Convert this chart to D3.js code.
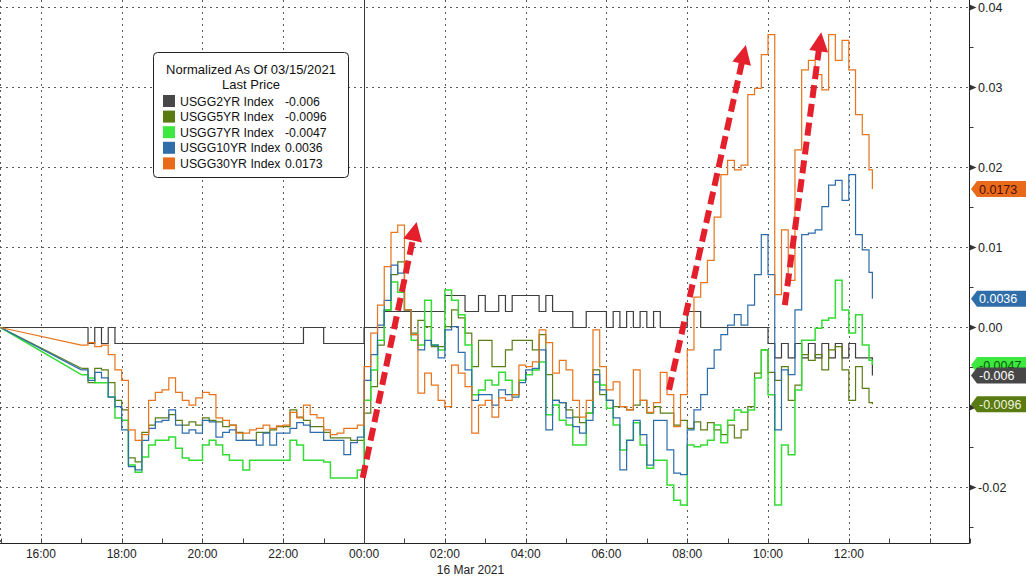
<!DOCTYPE html>
<html><head><meta charset="utf-8">
<script src="https://cdn.jsdelivr.net/npm/d3@7"></script>
<style>
html,body{margin:0;padding:0;background:#fff;}
svg{display:block;font-family:"Liberation Sans",Arial,sans-serif;}
</style></head><body>
<svg id="chart" width="1026" height="577"></svg>
<script>
// ---------------- DATA ----------------
const seriesNames = ["USGG2YR Index","USGG5YR Index","USGG7YR Index","USGG10YR Index","USGG30YR Index"];
const seriesColors = ["#3d3d3d","#5b7d16","#35dc35","#2d6cab","#e8741c"];
const lastPrice = [-0.006, -0.0096, -0.0047, 0.0036, 0.0173];
const lastPriceLabels = ["-0.006","-0.0096","-0.0047","0.0036","0.0173"];
const legendTitle = ["Normalized As Of 03/15/2021","Last Price"];
const startTime = "15:00";          // normalisation point (value 0 for all)
const lastTime = "12:35";           // last price time
const rowHours = ["17:00","18:00","19:00","20:00","21:00","22:00","23:00","00:00","01:00","02:00",
                  "03:00","04:00","05:00","06:00","07:00","08:00","09:00","10:00","11:00","12:00"];
const stepMinutes = 10;             // each row: values at :00 :10 :20 :30 :40 :50

const usgg2 = [
 [0,-0.002,0,-0.002,0,-0.002],
 [-0.002,-0.002,-0.002,-0.002,-0.002,-0.002],
 [-0.002,-0.002,-0.002,-0.002,-0.002,-0.002],
 [-0.002,-0.002,-0.002,-0.002,-0.002,-0.002],
 [-0.002,-0.002,-0.002,-0.002,-0.002,-0.002],
 [-0.002,-0.002,-0.002,0,0,0],
 [-0.002,-0.002,-0.002,-0.002,-0.002,-0.002],
 [0,0,0,0.002,0.002,0.002],
 [0.002,0.002,0.002,0.002,0.002,0.002],
 [0.004,0.004,0.004,0.002,0.002,0.004],
 [0.002,0.002,0.004,0.002,0.004,0.004],
 [0.004,0.004,0.002,0.004,0.002,0.002],
 [0.002,0,0,0.002,0.002,0.002],
 [0,0.002,0,0.002,0,0.002],
 [0,0.002,0,0,0,0],
 [0.002,0.002,0,0,0,0],
 [0,0,0,0,0,0],
 [-0.002,-0.0038,-0.002,-0.0038,-0.002,-0.0038],
 [-0.002,-0.0038,-0.002,-0.0038,-0.002,-0.0038],
 [-0.002,-0.0038,-0.0038,-0.0038]
];
const usgg5 = [
 [-0.0051,-0.0069,-0.0051,-0.0053,-0.0069,-0.0091],
 [-0.0103,-0.0163,-0.0168,-0.0131,-0.0122,-0.0113],
 [-0.0113,-0.0109,-0.0116,-0.0122,-0.0118,-0.0122],
 [-0.0113,-0.0116,-0.0118,-0.0124,-0.0122,-0.0131],
 [-0.0141,-0.0141,-0.0131,-0.0131,-0.0128,-0.0124],
 [-0.0124,-0.0103,-0.0112,-0.0116,-0.0124,-0.0124],
 [-0.0131,-0.0138,-0.0138,-0.0138,-0.0141,-0.0141],
 [-0.0107,-0.0074,-0.0022,0.0022,0.0066,0.0082],
 [0.0022,-0.0007,0.0009,0.0001,-0.0024,-0.0024],
 [0.0001,0.0022,0.0012,-0.0007,-0.0049,-0.0016],
 [-0.0016,-0.0049,-0.0049,-0.0028,-0.0016,-0.0016],
 [-0.0016,-0.0028,-0.0009,-0.0059,-0.0091,-0.0094],
 [-0.0103,-0.0112,-0.0119,-0.0107,-0.0053,-0.0084],
 [-0.0091,-0.0099,-0.0099,-0.0103,-0.0097,-0.0091],
 [-0.0107,-0.0099,-0.0107,-0.0107,-0.0122,-0.0116],
 [-0.0126,-0.0118,-0.0128,-0.0119,-0.0128,-0.0134],
 [-0.0122,-0.0138,-0.0128,-0.0099,-0.0057,-0.0028],
 [-0.0056,-0.0066,-0.0049,-0.0091,-0.0072,-0.0034],
 [-0.0041,-0.0034,-0.0053,-0.0028,-0.0024,-0.0053],
 [-0.0091,-0.0049,-0.0076,-0.0094]
];
const usgg7 = [
 [-0.0059,-0.0063,-0.0069,-0.0069,-0.0087,-0.0113],
 [-0.0116,-0.0172,-0.0181,-0.0162,-0.0147,-0.0141],
 [-0.0141,-0.0137,-0.0151,-0.0163,-0.0166,-0.0166],
 [-0.0147,-0.0141,-0.0147,-0.0159,-0.0166,-0.0166],
 [-0.0178,-0.0166,-0.0166,-0.0166,-0.0166,-0.0166],
 [-0.0166,-0.0141,-0.0147,-0.0166,-0.0166,-0.0166],
 [-0.0168,-0.0188,-0.0188,-0.0188,-0.0188,-0.0178],
 [-0.0091,-0.0053,-0.0016,0.0022,0.0057,0.0044],
 [0.0022,-0.0016,-0.0022,0.0034,-0.0022,-0.0028],
 [0.0047,0.0034,0.0016,-0.0022,-0.0084,-0.0078],
 [-0.0066,-0.0072,-0.0056,-0.0066,-0.0084,-0.0066],
 [-0.0059,-0.0053,-0.0043,-0.0109,-0.0097,-0.0116],
 [-0.0122,-0.0147,-0.0147,-0.0107,-0.0068,-0.0072],
 [-0.0101,-0.0122,-0.0153,-0.0141,-0.0119,-0.0147],
 [-0.0176,-0.0166,-0.0166,-0.0197,-0.0216,-0.0222],
 [-0.0147,-0.0149,-0.0147,-0.0141,-0.0122,-0.0144],
 [-0.0116,-0.0103,-0.0106,-0.0103,-0.0063,-0.0028],
 [-0.0084,-0.0222,-0.0147,-0.0159,-0.0078,-0.0016],
 [-0.0016,-0.0001,0.0009,0.0012,0.0059,0.0022],
 [-0.0007,0.0016,-0.0022,-0.0041]
];
const usgg10 = [
 [-0.0053,-0.0066,-0.0056,-0.0063,-0.0087,-0.0099],
 [-0.0128,-0.0174,-0.0178,-0.0141,-0.0126,-0.0118],
 [-0.0116,-0.0103,-0.0122,-0.0132,-0.0128,-0.0132],
 [-0.0116,-0.0118,-0.0137,-0.0131,-0.0128,-0.0141],
 [-0.0141,-0.0141,-0.0147,-0.0132,-0.0147,-0.0132],
 [-0.0132,-0.0126,-0.0119,-0.0122,-0.0131,-0.0131],
 [-0.0141,-0.0141,-0.0141,-0.0159,-0.0144,-0.0137],
 [-0.0066,-0.0034,0.0003,0.0034,0.0078,0.0068],
 [0.0022,-0.0009,-0.0028,-0.0016,-0.0022,-0.0038],
 [-0.0003,0.0001,-0.0031,-0.0053,-0.0091,-0.0084],
 [-0.0084,-0.0097,-0.0078,-0.0084,-0.0087,-0.0069],
 [-0.0053,-0.0051,-0.0028,-0.0128,-0.0091,-0.0094],
 [-0.0113,-0.0124,-0.0132,-0.0116,-0.0059,-0.0078],
 [-0.0091,-0.0113,-0.0178,-0.0141,-0.0116,-0.0134],
 [-0.0172,-0.0116,-0.0116,-0.0153,-0.0182,-0.0184],
 [-0.0128,-0.0103,-0.0084,-0.0051,-0.0028,-0.0009],
 [0.0003,0.0016,0.0003,0.0028,0.0066,0.0116],
 [0.0066,-0.0128,-0.0053,-0.0059,0.0022,0.0116],
 [0.0118,0.0122,0.0151,0.0178,0.0184,0.0159],
 [0.0191,0.0116,0.0097,0.0069]
];
const usgg30 = [
 [-0.0022,-0.0019,-0.0024,-0.0022,-0.0034,-0.0053],
 [-0.0066,-0.0128,-0.0141,-0.0134,-0.0091,-0.0081],
 [-0.0078,-0.0063,-0.0081,-0.0091,-0.0097,-0.0088],
 [-0.0081,-0.0084,-0.0113,-0.0116,-0.0122,-0.0132],
 [-0.0132,-0.0128,-0.0126,-0.0122,-0.0126,-0.0123],
 [-0.0122,-0.0106,-0.0113,-0.0097,-0.0109,-0.0113],
 [-0.0128,-0.0134,-0.0132,-0.0126,-0.0126,-0.0122],
 [-0.0049,-0.0007,0.0028,0.0076,0.0119,0.0128],
 [0.0022,-0.0009,-0.0082,-0.0057,-0.0072,-0.0091],
 [-0.0099,-0.0047,-0.0057,-0.0074,-0.0132,-0.0097],
 [-0.0091,-0.0112,-0.0088,-0.0091,-0.0084,-0.0047],
 [-0.0049,-0.0043,-0.0003,-0.0019,-0.0057,-0.0041],
 [-0.0053,-0.0091,-0.0112,-0.0091,-0.0003,-0.0049],
 [-0.0078,-0.0068,-0.0099,-0.0103,-0.0053,-0.0091],
 [-0.0106,-0.0094,-0.0056,-0.0084,-0.0124,-0.0084],
 [-0.0028,0.0038,0.0056,0.0084,0.0138,0.0191],
 [0.0209,0.0197,0.0203,0.0291,0.0299,0.0341],
 [0.0366,0.0041,0.0122,0.0059,0.0222,0.0322],
 [0.0334,0.0316,0.0297,0.0366,0.0334,0.0359],
 [0.0322,0.0266,0.0241,0.0197]
];
const seriesRows = [usgg2, usgg5, usgg7, usgg10, usgg30];

const yTicks = [-0.02,-0.01,0.00,0.01,0.02,0.03,0.04];
const yTickLabels = ["-0.02","","0.00","0.01","0.02","0.03","0.04"];  // -0.01 hidden behind badge
const yMinorTicks = [-0.025,-0.015,-0.005,0.005,0.015,0.025,0.035];
const xTickLabels = ["16:00","18:00","20:00","22:00","00:00","02:00","04:00","06:00","08:00","10:00","12:00"];
const xGridTimes = ["16:00","18:00","20:00","22:00","02:00","04:00","06:00","08:00","10:00","12:00","14:00"];
const daySeparator = "00:00";
const dateLabel = "16 Mar 2021";
// annotation arrows: [fromTime, fromValue, toTime, toValue]
const arrows = [
 ["23:58",-0.0188,"01:18",0.0132],
 ["07:33",-0.0078,"09:27",0.0353],
 ["10:25", 0.0028,"11:19",0.0369]
];

// ---------------- CHART ----------------
const svg = d3.select("#chart");
const axisX = 969.5, axisY = 543.5;
const x = d3.scaleUtc().domain([Date.UTC(2021,2,15,15,0), Date.UTC(2021,2,16,15,0)]).range([0.5, 970]);
const y = d3.scaleLinear().domain([-0.02,0.04]).range([487.5,7.5]);

function toDate(hhmm, addMin){
  const [h,m] = hhmm.split(":").map(Number);
  const day = h >= 15 ? 15 : 16;
  return new Date(Date.UTC(2021,2,day,h,m+(addMin||0)));
}
const px = t => Math.round(x(t)) + 0.5;

// grid
const grid = svg.append("g");
grid.selectAll("line.h").data(yTicks).join("line")
  .attr("x1",0).attr("x2",axisX).attr("y1",d=>y(d)).attr("y2",d=>y(d))
  .attr("stroke","#5a5a5a").attr("stroke-width",1).attr("stroke-dasharray","2,4");
grid.selectAll("line.v").data(xGridTimes).join("line")
  .attr("x1",d=>px(toDate(d))).attr("x2",d=>px(toDate(d))).attr("y1",0).attr("y2",axisY)
  .attr("stroke","#5a5a5a").attr("stroke-width",1).attr("stroke-dasharray","2,4");
grid.append("line").attr("x1",0.5).attr("x2",0.5).attr("y1",0).attr("y2",axisY)
  .attr("stroke","#5a5a5a").attr("stroke-dasharray","2,4");
grid.append("line").attr("x1",px(toDate(daySeparator))).attr("x2",px(toDate(daySeparator)))
  .attr("y1",0).attr("y2",axisY).attr("stroke","#3a3a3a").attr("stroke-width",1);

// series (Bloomberg-style stepped lines; straight segment over the data gap)
const stepLine = d3.line().x(d=>x(d[0])).y(d=>y(d[1])).curve(d3.curveStepAfter);
const linLine = d3.line().x(d=>x(d[0])).y(d=>y(d[1]));
const lines = svg.append("g").attr("fill","none");
seriesRows.forEach((rows,si)=>{
  const pts = [];
  rows.forEach((row,ri)=>row.forEach((v,j)=>pts.push([toDate(rowHours[ri], j*stepMinutes), v])));
  pts.push([toDate(lastTime), lastPrice[si]]);
  const w = si === 2 ? 1.5 : 1.2;
  lines.append("path").attr("d", linLine([[toDate(startTime),0], pts[0]]))
    .attr("stroke",seriesColors[si]).attr("stroke-width",w);
  lines.append("path").attr("d", stepLine(pts))
    .attr("stroke",seriesColors[si]).attr("stroke-width",w).attr("stroke-linejoin","miter");
});

// arrows
const ag = svg.append("g");
arrows.forEach(a=>{
  const x1=x(toDate(a[0])), y1=y(a[1]), x2=x(toDate(a[2])), y2=y(a[3]);
  const dx=x2-x1, dy=y2-y1, L=Math.hypot(dx,dy), ux=dx/L, uy=dy/L;
  const hl=19, hw=9.5, bx=x2-ux*hl, by=y2-uy*hl;
  ag.append("line").attr("x1",x1).attr("y1",y1).attr("x2",bx+ux*2).attr("y2",by+uy*2)
    .attr("stroke","#e3202c").attr("stroke-width",6).attr("stroke-dasharray","13,6");
  ag.append("path").attr("d",`M${x2},${y2}L${bx-uy*hw},${by+ux*hw}L${bx+uy*hw},${by-ux*hw}Z`)
    .attr("fill","#e3202c");
});

// axes
const ax = svg.append("g");
ax.append("line").attr("x1",axisX).attr("x2",axisX).attr("y1",0).attr("y2",axisY).attr("stroke","#222");
ax.append("line").attr("x1",0).attr("x2",axisX).attr("y1",axisY).attr("y2",axisY).attr("stroke","#222");
ax.selectAll("line.ht").data(x.ticks(d3.utcHour.every(1))).join("line")
  .attr("x1",d=>px(d)).attr("x2",d=>px(d)).attr("y1",axisY-5).attr("y2",axisY).attr("stroke","#444");
ax.selectAll("text.xl").data(xTickLabels).join("text")
  .attr("x",d=>x(toDate(d))).attr("y",558).attr("text-anchor","middle")
  .attr("font-size",12).attr("fill","#222").text(d=>d);
ax.append("text").attr("x",x(toDate("02:00"))-8).attr("y",574).attr("font-size",12)
  .attr("fill","#222").text(dateLabel);
ax.selectAll("path.yt").data(yTicks).join("path")
  .attr("d",d=>`M${axisX},${y(d)-3}L${axisX+7},${y(d)}L${axisX},${y(d)+3}Z`).attr("fill","#333");
ax.selectAll("line.ym").data(yMinorTicks).join("line")
  .attr("x1",axisX).attr("x2",axisX+4).attr("y1",d=>y(d)).attr("y2",d=>y(d)).attr("stroke","#333");
ax.selectAll("text.yl").data(yTicks.filter((d,i)=>yTickLabels[i])).join("text")
  .attr("x",978).attr("y",d=>y(d)+4.5).attr("font-size",12.5).attr("fill","#222")
  .text(d=>yTickLabels[yTicks.indexOf(d)]);

// last price badges
const badgeText = ["#ffffff","#eef3dc","#0b5a0b","#ffffff","#4a1000"];
const badgeFill = ["#474747","#5a7a12","#3ee83e","#2f6ea8","#ea6a1c"];
[4,3,2,0,1].forEach(si=>{
  const cy = y(lastPrice[si]);
  svg.append("path").attr("d",`M971,${cy}L977,${cy-8}L1026,${cy-8}L1026,${cy+8}L977,${cy+8}Z`)
    .attr("fill",badgeFill[si]);
  svg.append("text").attr("x",979).attr("y",cy+4.5).attr("font-size",12.5)
    .attr("fill",badgeText[si]).text(lastPriceLabels[si]);
});

// legend
const lg = svg.append("g");
lg.append("rect").attr("x",153.5).attr("y",52.5).attr("width",195).attr("height",125).attr("rx",4)
  .attr("fill","#fff").attr("stroke","#222");
legendTitle.forEach((t,i)=>lg.append("text").attr("x",251).attr("y",74+i*15)
  .attr("text-anchor","middle").attr("font-size",13).attr("fill","#111").text(t));
seriesNames.forEach((n,i)=>{
  const by = 105.5 + i*15.6;
  lg.append("rect").attr("x",163).attr("y",by-10.5).attr("width",12).attr("height",12).attr("fill",badgeFill[i]);
  lg.append("text").attr("x",180).attr("y",by).attr("font-size",12.3).attr("fill","#111").text(n);
  lg.append("text").attr("x",285).attr("y",by).attr("font-size",12.3).attr("fill","#111").text(lastPriceLabels[i]);
});
</script></body></html>
